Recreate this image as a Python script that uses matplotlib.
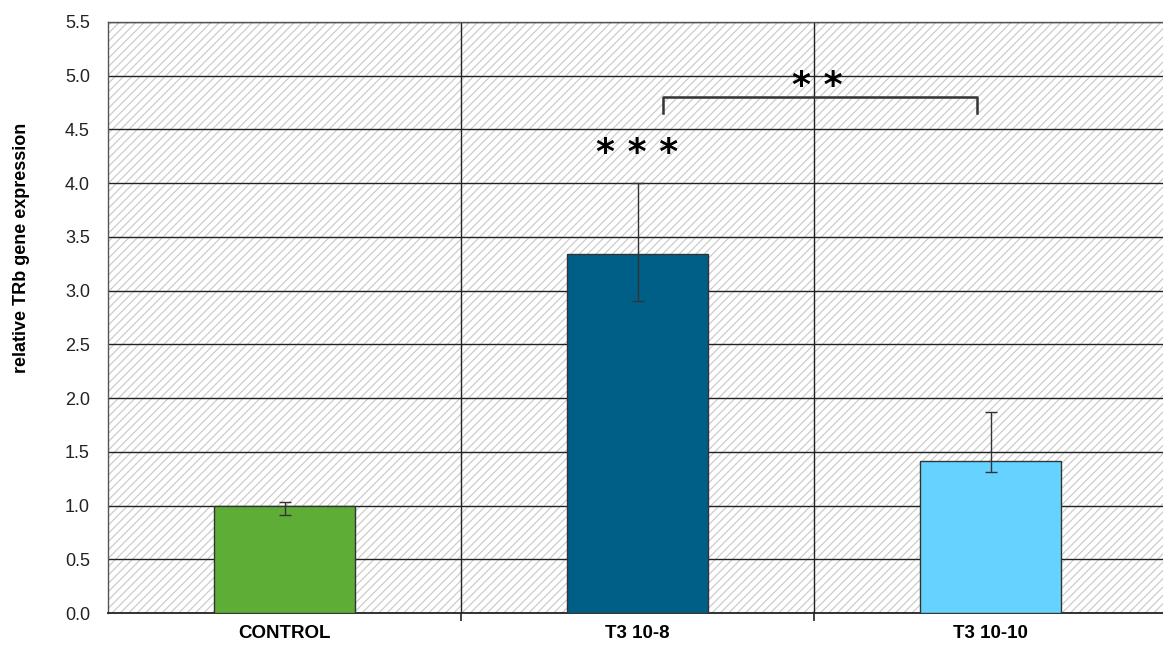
import matplotlib
matplotlib.use("Agg")
import matplotlib.pyplot as plt
from matplotlib.patches import Rectangle
import numpy as np

categories = ["CONTROL", "T3 10-8", "T3 10-10"]
values = [1.0, 3.34, 1.41]
err_low = [0.91, 2.90, 1.31]
err_high = [1.03, 4.00, 1.87]
bar_colors = ["#5DAD37", "#005F86", "#66D2FF"]
y_ticks = [0.0, 0.5, 1.0, 1.5, 2.0, 2.5, 3.0, 3.5, 4.0, 4.5, 5.0, 5.5]
ylabel = "relative TRb gene expression"
sig_single = "* * *"
sig_bracket = "* *"

plt.rcParams['font.family'] = ['Liberation Sans', 'DejaVu Sans']
plt.rcParams['hatch.linewidth'] = 0.9

fig = plt.figure(figsize=(11.63, 6.46), dpi=100)
ax = fig.add_axes([108/1163, 33/646, 1059/1163, 591/646])

x = np.arange(len(categories))
ax.set_xlim(-0.5, 2.5)
ax.set_ylim(0, 5.5)

# hatched background
ax.add_patch(Rectangle((0, 0), 1, 1, transform=ax.transAxes, facecolor="white",
                       edgecolor="#cccccc", hatch="////", linewidth=0, zorder=0))

for yv in y_ticks[1:]:
    ax.axhline(yv, color="#222222", lw=1.0, zorder=1)
for xv in [0.5, 1.5]:
    ax.axvline(xv, color="#222222", lw=1.0, zorder=1)

ax.bar(x, values, width=0.4, color=bar_colors, edgecolor="#333333", linewidth=1.0, zorder=3)
yerr = np.array([[v - l for v, l in zip(values, err_low)],
                 [h - v for v, h in zip(values, err_high)]])
ax.errorbar(x, values, yerr=yerr, fmt="none", ecolor="#333333", elinewidth=1.0,
            capsize=4.5, capthick=1.0, zorder=4)

# significance
ax.text(1.0, 4.28, sig_single, ha="center", va="center", fontsize=26,
        fontweight="bold", family=["DejaVu Sans"], zorder=5)
ax.plot([1.072, 1.072, 1.962, 1.962], [4.65, 4.80, 4.80, 4.65], color="#333333",
        lw=1.8, zorder=5, solid_joinstyle="round")
ax.text(1.51, 4.90, sig_bracket, ha="center", va="center", fontsize=26,
        fontweight="bold", family=["DejaVu Sans"], zorder=5)

ax.set_yticks(y_ticks)
ax.set_yticklabels([f"{v:.1f}" for v in y_ticks], fontsize=13, color="#222222")
ax.tick_params(axis="y", length=0, pad=13)
ax.set_xticks([0.5, 1.5, 2.5])
ax.set_xticklabels([])
ax.set_xticks(x, minor=True)
ax.set_xticklabels(categories, minor=True, fontsize=13.5, fontweight="bold")
ax.tick_params(axis="x", which="major", length=6, width=1.2, direction="out", color="#222222")
ax.tick_params(axis="x", which="minor", length=0, pad=9)

for s in ["left", "top"]:
    ax.spines[s].set_color("#555555")
    ax.spines[s].set_linewidth(1.0)
ax.spines["right"].set_visible(False)
ax.spines["bottom"].set_color("#222222")
ax.spines["bottom"].set_linewidth(1.3)

fig.text(22/1163, 1 - 248/646, ylabel, rotation=90, ha="center", va="center",
         fontsize=13, fontweight="bold")

fig.savefig("out.png", dpi=100)
